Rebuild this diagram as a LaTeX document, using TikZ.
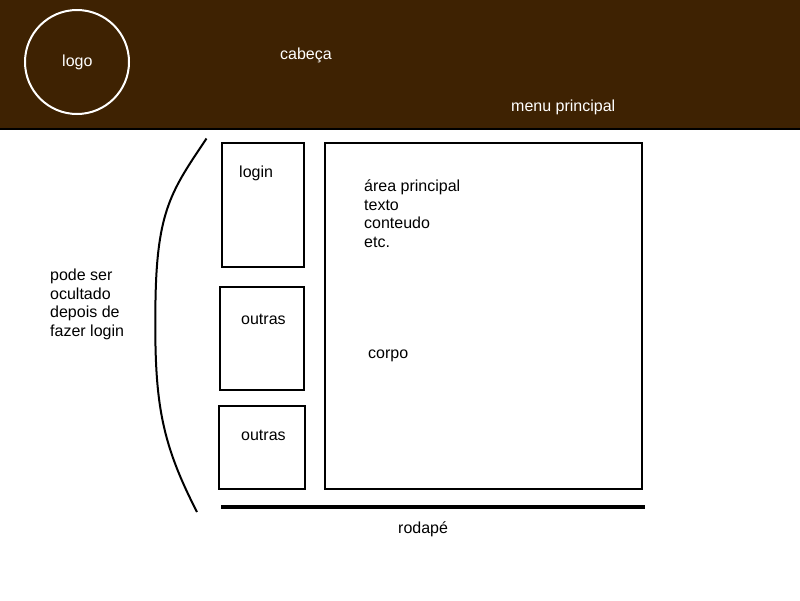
\documentclass[tikz,border=0pt]{standalone}
\usepackage{fontspec}
\setmainfont{Liberation Sans}
\definecolor{headbrown}{RGB}{62,34,2}
\begin{document}
\begin{tikzpicture}[x=1pt,y=-1pt,
  lbl/.style={inner sep=0pt,anchor=base west,font=\fontsize{16}{18.4}\selectfont},
  wlbl/.style={lbl,text=white},
  box/.style={draw=black,line width=2pt,inner sep=0pt},
]
\useasboundingbox (0,0) rectangle (800,600);
\fill[white] (0,0) rectangle (800,600);
% header
\fill[headbrown] (0,0) rectangle (800,129);
\draw[line width=2pt] (0,129) -- (800,129);
\node[draw=white,line width=2pt,circle,minimum size=104pt,inner sep=0pt] (logoc) at (77,62) {};
\node[wlbl] (logo) at (62,66) {logo};
\node[wlbl] (cabeca) at (280,59) {cabeça};
\node[wlbl] (menu) at (511,111) {menu principal};
% side boxes
\node[box,minimum width=82pt,minimum height=124pt] (loginbox) at (263,205) {};
\node[lbl] (login) at (239,177) {login};
\node[box,minimum width=84pt,minimum height=103pt] (out1box) at (262.3,338.2) {};
\node[lbl] (out1) at (241,324) {outras};
\node[box,minimum width=86pt,minimum height=83pt] (out2box) at (262.3,447.6) {};
\node[lbl] (out2) at (241,440) {outras};
% main box
\node[box,minimum width=317pt,minimum height=346pt] (mainbox) at (483.8,315.5) {};
\node[lbl,align=left] (area) at (364,247) {área principal\\texto\\conteudo\\etc.};
\node[lbl] (corpo) at (368,358) {corpo};
% footer
\coordinate (fl) at (221,507);
\coordinate (fr) at (645,507);
\draw[line width=4pt] (fl) -- (fr);
\node[lbl] (rodape) at (398,533) {rodapé};
% curve
\coordinate (ct) at (206.5,138.5);
\coordinate (cb) at (197,512);
\draw[line width=2pt] (ct) .. controls (172,190) and (157,210) .. (155.5,300)
  .. controls (154,400) and (160,440) .. (cb);
\node[lbl,align=left] (side) at (50,336) {pode ser\\ocultado\\depois de\\fazer login};
\end{tikzpicture}
\end{document}
